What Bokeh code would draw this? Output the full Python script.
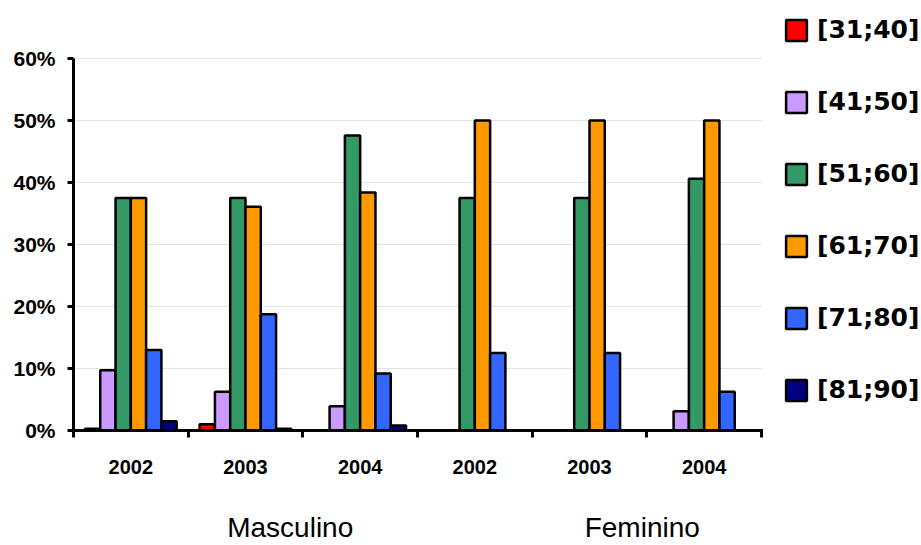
import numpy as np
from bokeh.plotting import figure
from bokeh.models import (Range1d, FixedTicker, NumeralTickFormatter, Legend, LegendItem,
                          Label, ColumnDataSource)
from bokeh.embed import file_html
from bokeh.resources import INLINE

# ---- data ----
years = ["2002", "2003", "2004", "2002", "2003", "2004"]
sexes = ["Masculino", "Feminino"]
sex_label_pos = [1.89, 4.96]
series = ["[31;40]", "[41;50]", "[51;60]", "[61;70]", "[71;80]", "[81;90]"]
colors = ["#FF0000", "#CC99FF", "#339966", "#FF9900", "#3366FF", "#000080"]
v_31_40 = [0.3, 1.0, 0.0, 0.0, 0.0, 0.0]
v_41_50 = [9.7, 6.25, 3.9, 0.0, 0.0, 3.1]
v_51_60 = [37.5, 37.5, 47.6, 37.5, 37.5, 40.6]
v_61_70 = [37.5, 36.1, 38.4, 50.0, 50.0, 50.0]
v_71_80 = [13.0, 18.75, 9.2, 12.5, 12.5, 6.25]
v_81_90 = [1.5, 0.3, 0.8, 0.0, 0.0, 0.0]
values = [v_31_40, v_41_50, v_51_60, v_61_70, v_71_80, v_81_90]
y_ticks = [0, 10, 20, 30, 40, 50, 60]

FONT = "Liberation Sans"
n_groups = len(years)
n_series = len(series)
bar_w = 0.8 / n_series

W, H = 921, 545
# frame covers the whole canvas; axes are drawn at fixed data locations
px_x = 688 / n_groups          # pixels per group
px_y = 372 / 0.6               # pixels per unit (fraction)
x0_px, y0_px = 73, 430
p = figure(width=W, height=H, output_backend="svg", toolbar_location=None,
           x_range=Range1d(-x0_px / px_x, (W - x0_px) / px_x),
           y_range=Range1d(-(H - y0_px) / px_y, y0_px / px_y),
           min_border_left=0, min_border_right=0, min_border_top=0, min_border_bottom=0)
p.outline_line_color = None
p.background_fill_color = "white"
p.border_fill_color = "white"
p.xgrid.grid_line_color = None
p.ygrid.grid_line_color = None

# horizontal grid lines across the plotting area only
gy = [t / 100 for t in y_ticks[1:]]
p.segment(x0=[0] * len(gy), x1=[n_groups] * len(gy), y0=gy, y1=gy,
          line_color="#e4e4e4", line_width=1, level="underlay")

items = []
for j, (name, vals, col) in enumerate(zip(series, values, colors)):
    xs = np.arange(n_groups) + 0.5 + (j - (n_series - 1) / 2) * bar_w
    v = np.array(vals) / 100.0
    mask = v > 0
    src = ColumnDataSource(dict(x=xs[mask], top=v[mask]))
    r = p.vbar(x="x", top="top", bottom=0, width=bar_w, source=src,
               fill_color=col, line_color="black", line_width=2.5)
    items.append(LegendItem(label=name, renderers=[r]))

# x axis with years
xa = p.xaxis[0]
xa.fixed_location = 0
xa.bounds = (0, n_groups)
xa.ticker = FixedTicker(ticks=[i + 0.5 for i in range(n_groups)],
                        minor_ticks=list(range(n_groups + 1)))
xa.major_label_overrides = {i + 0.5: y for i, y in enumerate(years)}
xa.major_tick_line_color = None
xa.major_tick_out = 0
xa.major_tick_in = 0
xa.minor_tick_out = 7
xa.minor_tick_in = 0
xa.minor_tick_line_width = 3
xa.minor_tick_line_color = "black"
xa.axis_line_width = 3
xa.axis_line_color = "black"
xa.axis_line_cap = "square"
xa.major_label_standoff = 22
xa.major_label_text_font = FONT
xa.major_label_text_font_style = "bold"
xa.major_label_text_font_size = "20px"
xa.major_label_text_color = "black"

ya = p.yaxis[0]
ya.fixed_location = 0
ya.bounds = (0, 0.6)
ya.ticker = FixedTicker(ticks=[t / 100 for t in y_ticks])
ya.formatter = NumeralTickFormatter(format="0%")
ya.axis_line_width = 3
ya.axis_line_color = "black"
ya.major_tick_line_width = 3
ya.major_tick_out = 6
ya.major_tick_in = 0
ya.minor_tick_line_color = None
ya.major_label_standoff = 12
ya.major_label_text_font = FONT
ya.major_label_text_font_style = "bold"
ya.major_label_text_font_size = "21px"
ya.major_label_text_color = "black"

# group labels under the axis
for sx, txt in zip(sex_label_pos, sexes):
    p.add_layout(Label(x=sx, y=-0.157, text=txt, text_font=FONT,
                       text_font_size="28px", text_align="center",
                       text_baseline="middle", text_color="black"))

legend = Legend(items=items, location=(783, 141), padding=0, margin=0,
                border_line_color=None, background_fill_alpha=0,
                glyph_width=26, glyph_height=26, label_height=26,
                spacing=43, label_standoff=8,
                label_text_font="DejaVu Sans", label_text_font_style="bold",
                label_text_font_size="25px", label_text_color="black")
p.add_layout(legend, "center")

open("out.html", "w").write(file_html(p, INLINE))
